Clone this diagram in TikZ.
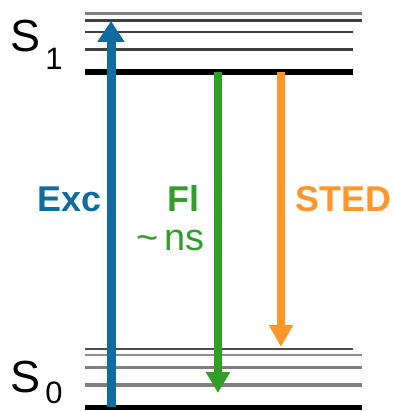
\documentclass[tikz,border=0pt]{standalone}
\usepackage{fontspec}
\setmainfont{Liberation Sans}
\usetikzlibrary{arrows.meta}
\definecolor{excblue}{RGB}{14,108,160}
\definecolor{flgreen}{RGB}{50,158,40}
\definecolor{stedorange}{RGB}{255,150,42}
\tikzset{
	level/.style={line width=#1},
	label/.style={inner sep=0pt, anchor=base west, font=\fontsize{25.5}{28}\selectfont\bfseries},
	state/.style={inner sep=0pt, anchor=base west, font=\fontsize{32}{36}\selectfont},
	substate/.style={inner sep=0pt, anchor=base west, font=\fontsize{22}{24}\selectfont}
}

\begin{document}
\begin{tikzpicture}[x=0.25mm, y=-0.25mm]
			%%%%% START %%%%%
			\useasboundingbox (0, 0) rectangle (393, 411);
			
			% S1 levels
			\draw[level=0.9mm, color=black!50] (85, 13.5) -- (362, 13.5);
			\draw[level=0.75mm, color=black!75] (85, 20.5) -- (362, 20.5);
			\draw[level=0.55mm, color=black!75] (85, 32) -- (353, 32);
			\draw[level=0.6mm, color=black!75] (85, 49.5) -- (353, 49.5);
			\draw[level=1.6mm, color=black] (85, 72) -- (353, 72);
			
			% S0 levels
			\draw[level=0.65mm, color=black!70] (85, 349) -- (353, 349);
			\draw[level=0.7mm, color=black!45] (85, 355) -- (362, 355);
			\draw[level=0.8mm, color=black!50] (85, 367.5) -- (362, 367.5);
			\draw[level=0.8mm, color=black!50] (85, 385) -- (362, 385);
			\draw[level=1.1mm, color=black] (85, 407.5) -- (362, 407.5);
			
			\node[state] (s1) at (10, 52) {S};
			\node[substate] (s1sub) at (45, 70) {1};
			\node[state] (s0) at (10, 392) {S};
			\node[substate] (s0sub) at (45, 403) {0};
			
			% arrow ends
			\coordinate (excfrom) at (111, 407);
			\coordinate (excto) at (111, 21);
			\coordinate (flfrom) at (218, 72);
			\coordinate (flto) at (218, 393);
			\coordinate (stedfrom) at (281, 72);
			\coordinate (stedto) at (281, 347);
			
			\draw[line width=2.25mm, color=excblue, -{Triangle[width=6.5mm, length=5.25mm]}] (excfrom) -- (excto);
			\draw[line width=2mm, color=flgreen, -{Triangle[width=5.75mm, length=5.25mm]}] (flfrom) -- (flto);
			\draw[line width=2mm, color=stedorange, -{Triangle[width=5.75mm, length=5.5mm]}] (stedfrom) -- (stedto);
			
			\node[label, color=excblue] (exc) at (37, 212) {Exc};
			\node[label, color=flgreen] (fl) at (167, 212) {Fl};
			\node[label, font=\fontsize{27}{29}\selectfont, color=flgreen] (ns) at (136, 250) {\textasciitilde\,ns};
			\node[label, color=stedorange] (sted) at (295, 212) {STED};
			
			%%%%% END %%%%%
		\end{tikzpicture}
\end{document}
